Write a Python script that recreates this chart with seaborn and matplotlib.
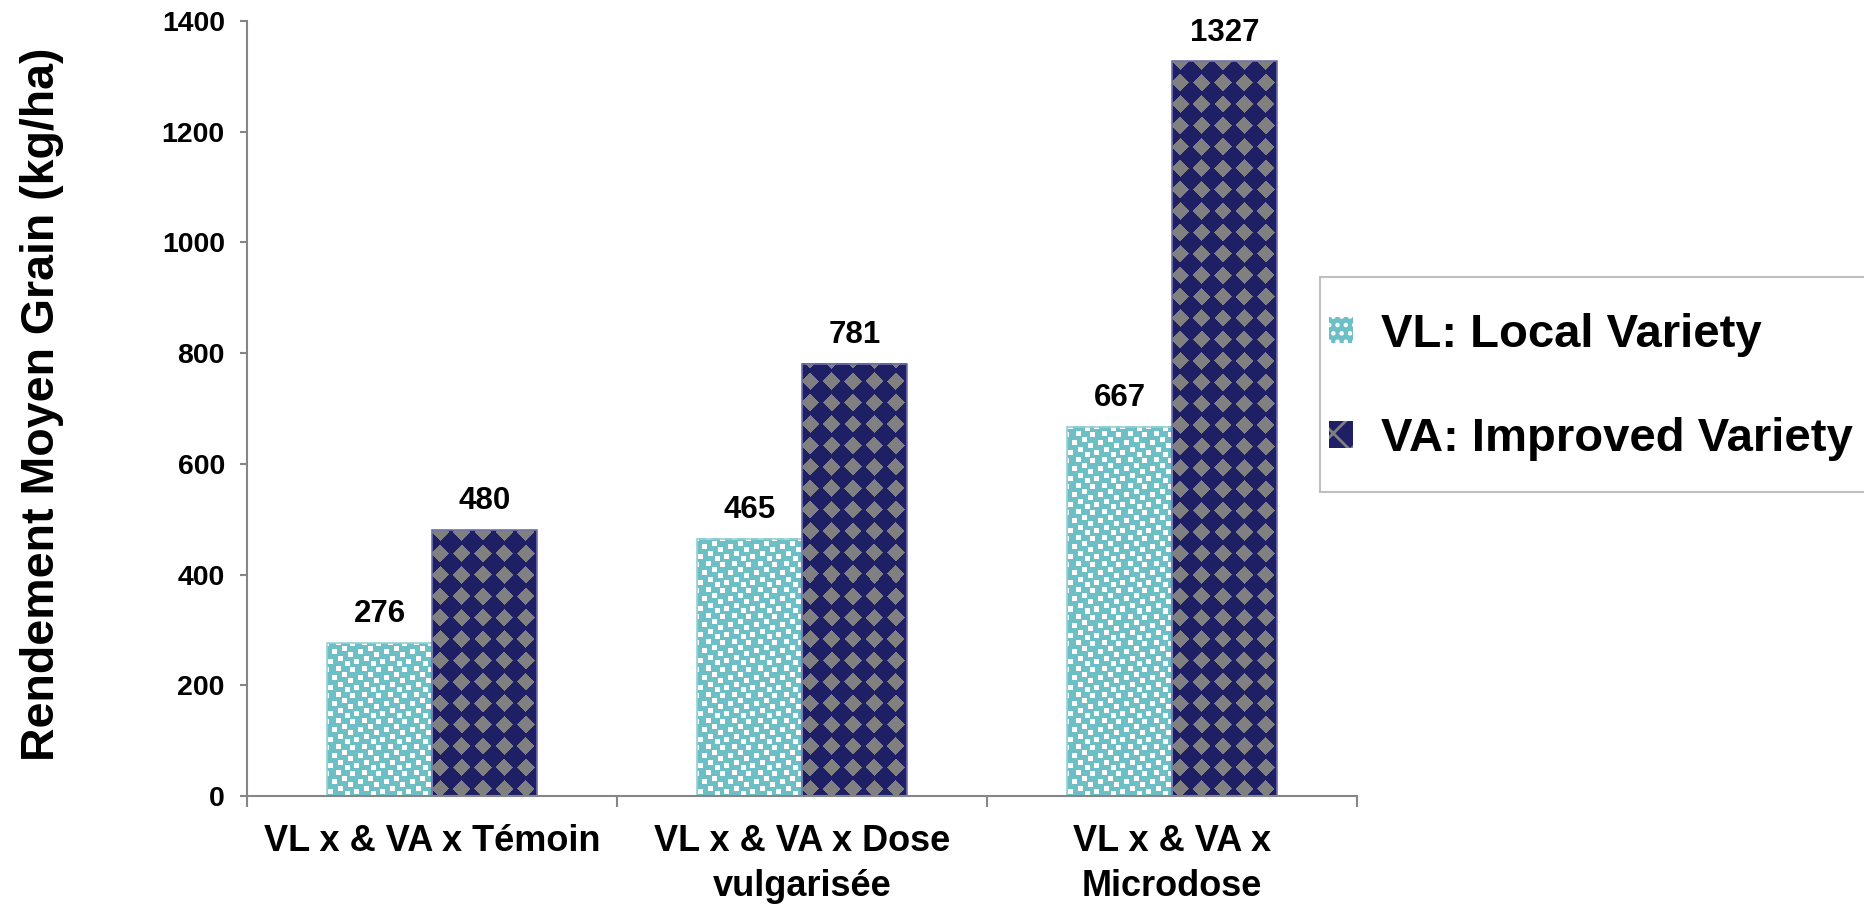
import numpy as np
import pandas as pd
import matplotlib
matplotlib.use("Agg")
import matplotlib.pyplot as plt
from matplotlib.patches import Patch, Rectangle
import seaborn as sns

# ---- data ----
categories = ["VL x & VA x Témoin", "VL x & VA x Dose\nvulgarisée", "VL x & VA x\nMicrodose"]
varieties = ["VL: Local Variety", "VA: Improved Variety"]
vl_values = [276, 465, 667]
va_values = [480, 781, 1327]
y_ticks = [0, 200, 400, 600, 800, 1000, 1200, 1400]
y_label = "Rendement Moyen Grain (kg/ha)"

df = pd.DataFrame({
    "Traitement": categories * 2,
    "Variété": [varieties[0]] * len(categories) + [varieties[1]] * len(categories),
    "Rendement": vl_values + va_values,
})

# ---- style ----
TEAL = "#6CC0C5"
NAVY = "#1F1F66"
DIAMOND = "#808080"
AXIS_GRAY = "#868686"

sns.set_style("white")
plt.rcParams["font.family"] = ["Liberation Sans", "DejaVu Sans"]
plt.rcParams["font.weight"] = "bold"
plt.rcParams["text.color"] = "black"
plt.rcParams["hatch.linewidth"] = 2.0

W_PX, H_PX = 1864, 906
fig = plt.figure(figsize=(W_PX / 100, H_PX / 100), dpi=100)
ax = fig.add_axes([247 / W_PX, 1 - 796 / H_PX, (1357 - 247) / W_PX, (796 - 21) / H_PX])

sns.barplot(data=df, x="Traitement", y="Rendement", hue="Variété",
            order=categories, hue_order=varieties, palette=[TEAL, NAVY],
            width=0.565, saturation=1, legend=False, ax=ax)

ax.set_xlim(-0.5, len(categories) - 0.5)
ax.set_ylim(y_ticks[0], y_ticks[-1])


def rgb(hexcol):
    return np.array(matplotlib.colors.to_rgb(hexcol))


def confetti_texture(w, h):
    """Teal fill sprinkled with small white squares (repeating tile)."""
    tile = 26
    img = np.empty((h, w, 3))
    img[:] = rgb(TEAL)
    yy, xx = np.mgrid[0:h, 0:w]
    tx, ty = xx % tile, yy % tile
    spots = [(1, 2), (11, 5), (18, 0), (5, 12), (15, 15), (21, 9), (9, 21), (23, 20)]
    mask = np.zeros((h, w), bool)
    for cx, cy in spots:
        mask |= (((tx - cx) % tile) < 5) & (((ty - cy) % tile) < 5)
    img[mask] = 1.0
    return img


def diamond_texture(w, h):
    """Navy fill with a grid of grey diamonds."""
    p = 21.4
    img = np.empty((h, w, 3))
    img[:] = rgb(NAVY)
    yy, xx = np.mgrid[0:h, 0:w]
    u = ((xx + 3) % p) - p / 2
    v = ((yy + 4) % p) - p / 2
    mask = (np.abs(u) + np.abs(v)) < 0.42 * p
    img[mask] = rgb(DIAMOND)
    return img


textures = [confetti_texture, diamond_texture]
edges = ["#96D2D6", "#7272AA"]

for container, make_tex, edge in zip(ax.containers, textures, edges):
    for bar in container:
        x0, y0 = bar.get_x(), bar.get_y()
        bw, bh = bar.get_width(), bar.get_height()
        (px0, py0), (px1, py1) = ax.transData.transform([[x0, y0], [x0 + bw, y0 + bh]])
        wpx = max(int(round(px1 - px0)), 1)
        hpx = max(int(round(py1 - py0)), 1)
        tex = make_tex(wpx, hpx)
        ax.imshow(tex, extent=(x0, x0 + bw, y0, y0 + bh), origin="lower",
                  aspect="auto", interpolation="nearest", zorder=1.5)
        ax.add_patch(Rectangle((x0, y0), bw, bh, fill=False, edgecolor=edge,
                               linewidth=1.2, zorder=2))
    ax.bar_label(container, fmt="{:.0f}", padding=10, fontsize=22.5,
                 fontweight="bold", color="black")

ax.set_xlim(-0.5, len(categories) - 0.5)
ax.set_ylim(y_ticks[0], y_ticks[-1])

# ---- axes ----
ax.set_xlabel("")
ax.set_ylabel("")
ax.set_yticks(y_ticks)
ax.set_yticklabels([str(t) for t in y_ticks])
ax.tick_params(axis="y", which="major", left=True, length=5, width=1.5,
               color=AXIS_GRAY, labelsize=20.5, pad=11, labelcolor="black")
ax.set_xticks(np.arange(-0.5, len(categories), 1.0), minor=True)
ax.tick_params(axis="x", which="major", bottom=False, length=0, labelsize=26, pad=20,
               labelcolor="black")
ax.tick_params(axis="x", which="minor", bottom=True, length=8, width=1.5,
               color=AXIS_GRAY)
for lab in ax.get_xticklabels():
    lab.set_linespacing(1.37)
    lab.set_multialignment("center")
    lab.set_fontweight("bold")
for lab in ax.get_yticklabels():
    lab.set_fontweight("bold")

for side in ["top", "right"]:
    ax.spines[side].set_visible(False)
for side in ["left", "bottom"]:
    ax.spines[side].set_color(AXIS_GRAY)
    ax.spines[side].set_linewidth(1.5)

fig.text(42 / W_PX, 1 - 404 / H_PX, y_label, rotation=90, ha="center", va="center",
         fontsize=33.5, fontweight="bold", color="black")

# ---- legend ----
# frame box, running past the right edge of the figure
fig.patches.append(Rectangle((1320 / W_PX, 1 - 492 / H_PX), (1900 - 1320) / W_PX,
                             (492 - 277) / H_PX, transform=fig.transFigure,
                             facecolor="white", edgecolor="#BFBFBF", linewidth=1.5,
                             zorder=0))
handles = [
    Patch(facecolor=TEAL, edgecolor="white", hatch="..", linewidth=0),
    Patch(facecolor=NAVY, edgecolor=DIAMOND, hatch="x", linewidth=0),
]
leg = fig.legend(handles, varieties, loc="center left",
                 bbox_to_anchor=(1329 / W_PX, 1 - 387 / H_PX),
                 prop={"size": 34, "weight": "bold"}, frameon=False,
                 borderpad=0, borderaxespad=0, labelspacing=1.28,
                 handlelength=0.5, handleheight=0.5, handletextpad=0.6,
                 labelcolor="black")

fig.savefig("out.png", dpi=100)
